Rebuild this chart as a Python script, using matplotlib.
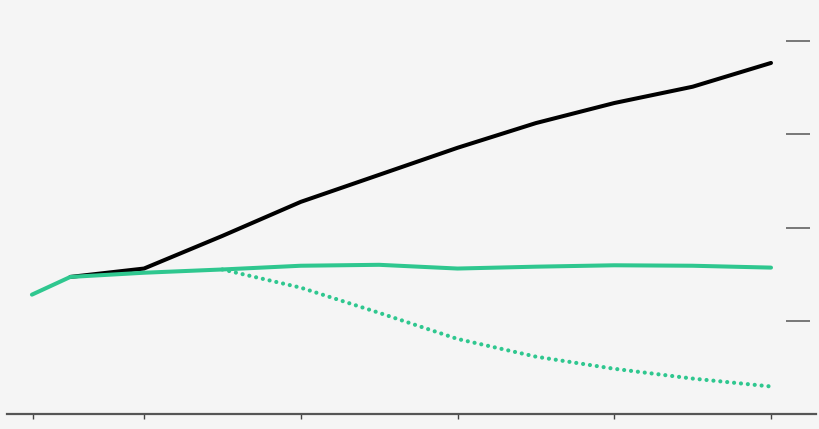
import matplotlib
matplotlib.use("Agg")
import matplotlib.pyplot as plt

# data (arbitrary units, ticks at 10/20/30/40)
years = [2012.85, 2015.3, 2020, 2025, 2030, 2035, 2040, 2045, 2050, 2055, 2060]
black_vals = [12.8, 14.7, 15.6, 19.1, 22.75, 25.65, 28.55, 31.2, 33.35, 35.1, 37.65]
green_vals = [12.8, 14.7, 15.15, 15.5, 15.9, 16.0, 15.6, 15.8, 15.95, 15.9, 15.7]
dotted_years = [2025, 2030, 2035, 2040, 2045, 2050, 2055, 2060]
dotted_vals = [15.5, 13.55, 10.85, 8.05, 6.15, 4.85, 3.8, 2.95]

x_ticks = [2012.9, 2020, 2030, 2040, 2050, 2060]
y_ticks = [10, 20, 30, 40]

bg = '#f5f5f5'
green = '#2fc78f'

fig = plt.figure(figsize=(8.2, 4.29), dpi=100, facecolor=bg)
ax = fig.add_axes([7 / 820, 15 / 429, 809 / 820, 414 / 429], facecolor=bg)

# black shares the green path at the start, so draw it from the kink, under green
ax.plot(years[1:], black_vals[1:], color='black', linewidth=2.9, solid_capstyle='round', zorder=2)
ax.plot(dotted_years, dotted_vals, color=green, linewidth=3.0,
        linestyle=(0, (0.01, 1.65)), dash_capstyle='round', zorder=2)
ax.plot(years, green_vals, color=green, linewidth=2.9, solid_capstyle='round', zorder=3)

ax.set_xlim(2011.26, 2062.87)
ax.set_ylim(0, 44.4)

for side in ['top', 'left', 'right']:
    ax.spines[side].set_visible(False)
ax.spines['bottom'].set_color('#555555')
ax.spines['bottom'].set_linewidth(1.6)

ax.set_xticks(x_ticks)
ax.set_xticklabels([])
ax.tick_params(axis='x', direction='out', length=3.8, width=1.0, color='#444444')

ax.yaxis.tick_right()
ax.spines['right'].set_position(('outward', -4.3))
ax.set_yticks(y_ticks)
ax.set_yticklabels([])
ax.tick_params(axis='y', direction='in', length=17, width=1.1, color='#555555', left=False)

fig.savefig('out.png', dpi=100, facecolor=bg)
